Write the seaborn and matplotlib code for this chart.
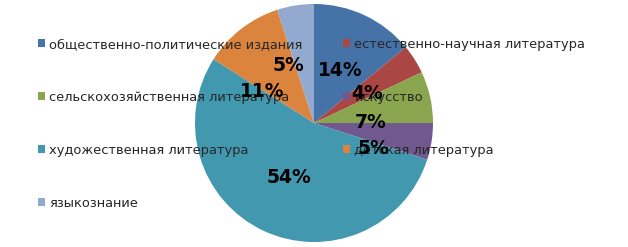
import matplotlib
matplotlib.use("Agg")
import matplotlib.pyplot as plt
import seaborn as sns

categories = [
    "общественно-политические издания",
    "естественно-научная литература",
    "сельскохозяйственная литература",
    "искусство",
    "художественная литература",
    "детская литература",
    "языкознание",
]
values = [14, 4, 7, 5, 54, 11, 5]
colors = ["#4572A7", "#AA4643", "#89A54E", "#71588F", "#4198AF", "#DB843D", "#93A9CF"]

# label anchor positions (in pie radius units), as placed in the reference
label_pos = [(0.218, 0.445), (0.445, 0.252), (0.479, 0.008), (0.496, -0.218),
             (-0.210, -0.462), (-0.437, 0.261), (-0.218, 0.487)]

sns.set_style("white")
plt.rcParams["font.family"] = ["DejaVu Sans"]
palette = sns.color_palette(colors)

W, H = 628, 247
fig = plt.figure(figsize=(W / 100, H / 100), dpi=100)
cx, cy, r = 314, 123, 119
ax = fig.add_axes([(cx - r) / W, (H - cy - r) / H, 2 * r / W, 2 * r / H])

wedges, texts, autotexts = ax.pie(
    values, colors=palette, startangle=90, counterclock=False,
    autopct="%1.0f%%", pctdistance=0.5, radius=1,
    textprops=dict(fontsize=13.5, fontweight="bold", color="black"),
    wedgeprops=dict(linewidth=0),
)
ax.set_xlim(-1, 1)
ax.set_ylim(-1, 1)
ax.set_aspect("equal")
for t, p in zip(autotexts, label_pos):
    t.set_position(p)
    t.set_zorder(10)

order = [0, 2, 4, 6, 1, 3, 5]
leg = ax.legend(
    [wedges[i] for i in order], [categories[i] for i in order],
    ncol=2, loc="upper left", bbox_to_anchor=(38 / W, 1 - 38 / H),
    bbox_transform=fig.transFigure, frameon=False, fontsize=9.35,
    handlelength=0.55, handleheight=0.55, handletextpad=0.33,
    labelspacing=3.07, columnspacing=3.1, borderaxespad=0, borderpad=0,
)
leg.set_zorder(5)

fig.savefig("out.png", dpi=100)
